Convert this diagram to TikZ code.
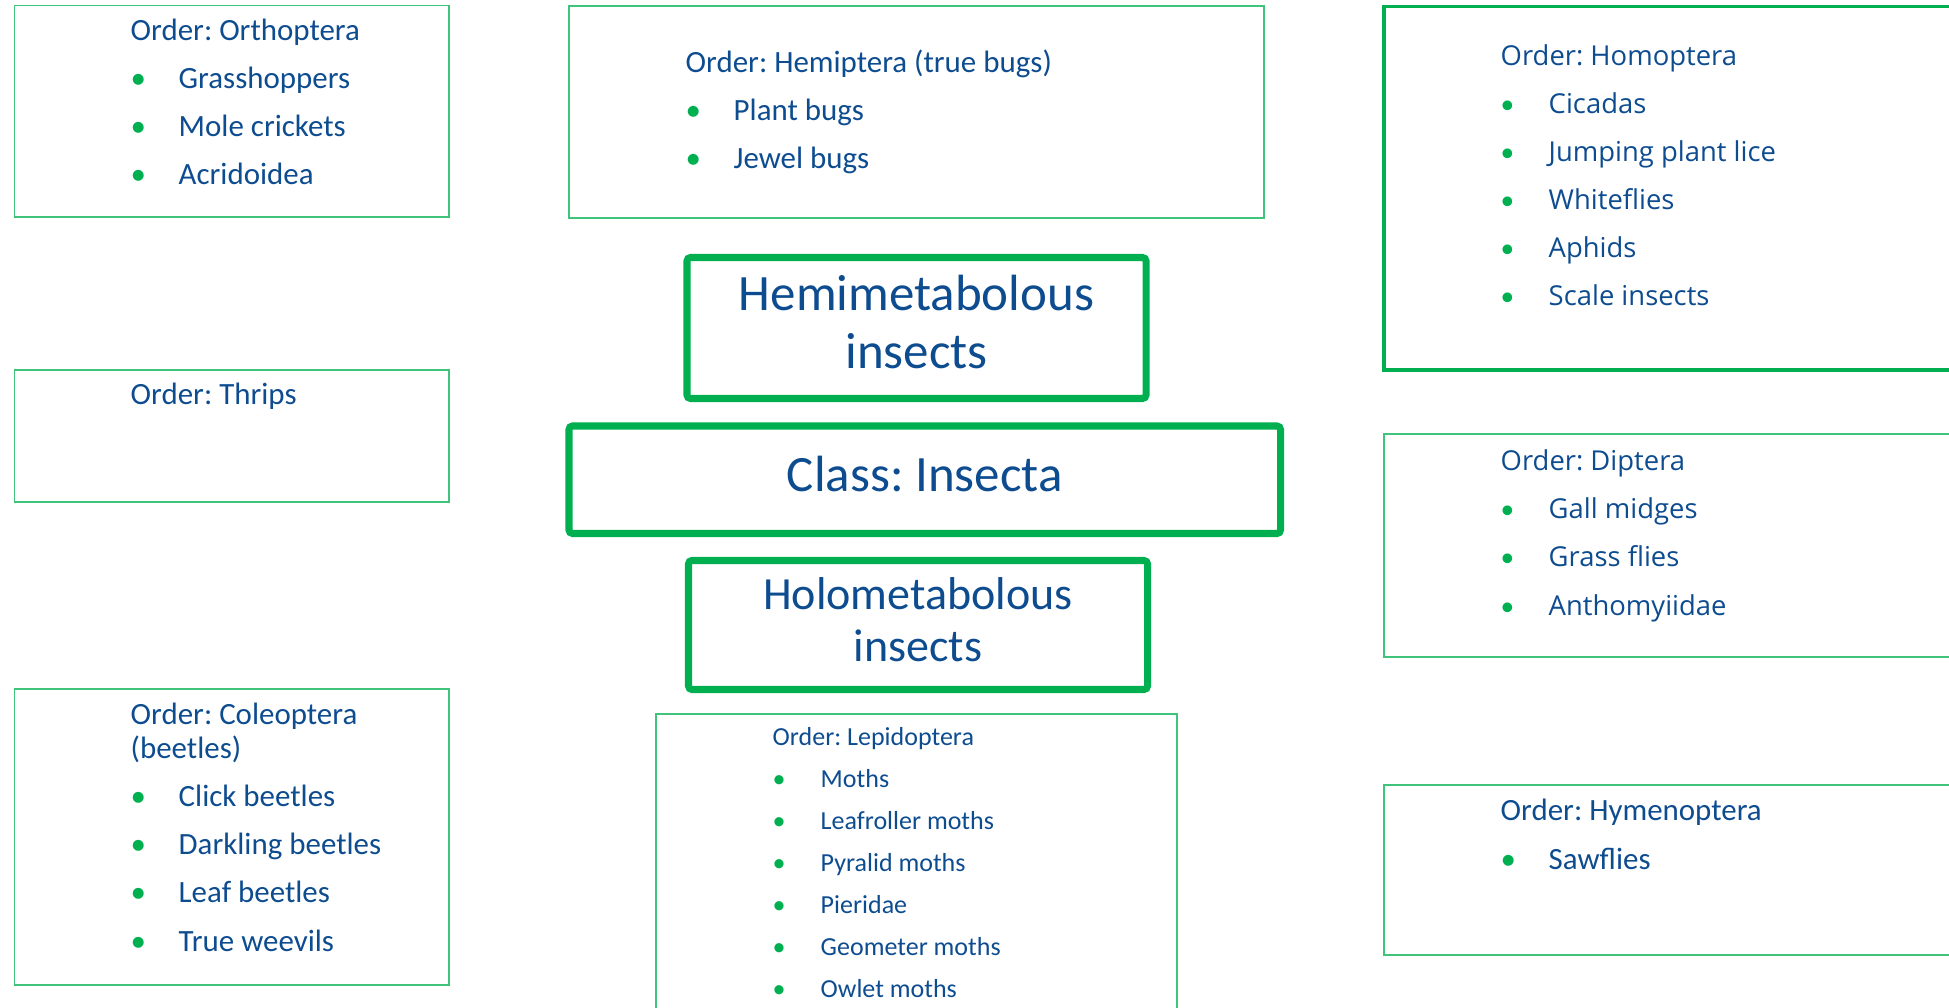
\documentclass[tikz,border=0pt]{standalone}
\usepackage{fontspec}
\setmainfont{Carlito}
\newfontfamily\widefont{Open Sans}
\usetikzlibrary{positioning}
\definecolor{TextBlue}{HTML}{0E4C90}
\definecolor{BoxGreen}{HTML}{00B050}
\newcommand{\itm}[1]{\makebox[0.48cm][l]{\textcolor{BoxGreen}{\rmfamily\textbullet}}#1}
\frenchspacing

\begin{document}
\begin{tikzpicture}[
    every node/.style={text=TextBlue},
    order/.style={draw=BoxGreen!75, line width=0.5pt, inner sep=0pt},
    group/.style={draw=BoxGreen, line width=2pt, rounded corners=1pt, inner sep=0pt,
                  align=center, font=\fontsize{14.5pt}{16.5pt}\selectfont},
    list/.style={anchor=base west, align=left, inner sep=0pt,
                 font=\fontsize{8.8pt}{13.66pt}\selectfont},
  ]
    \useasboundingbox (0,0) rectangle (19.49,10.07);
    \clip (0,0) rectangle (19.49,10.07);
    % ---- middle: class and the two groups ----
    \node[group, minimum width=4.59cm, minimum height=1.41cm] (hemi) at (9.165,6.79)
        {\strut Hemimetabolous\\insects\strut};
    \node[group, minimum width=7.115cm, minimum height=1.075cm] (insecta) at (9.2475,5.2725)
        {\strut Class: Insecta};
    \node[group, minimum width=4.59cm, minimum height=1.29cm,
          font=\fontsize{13.1pt}{14.8pt}\selectfont] (holo) at (9.18,3.82)
        {\strut Holometabolous\\insects\strut};
    % ---- left column (anchored at the last line) ----
    \node[order, minimum width=4.345cm, minimum height=2.114cm] (orthbox)  at (2.3175,8.957) {};
    \node[order, minimum width=4.345cm, minimum height=1.32cm]  (thripbox) at (2.3175,5.71)  {};
    \node[order, minimum width=4.345cm, minimum height=2.96cm]  (coleobox) at (2.3175,1.70)  {};
    \node[list] (orthtxt) at (1.30,8.22)
        {Order: Orthoptera\\\itm{Grasshoppers}\\\itm{Mole crickets}\\\itm{Acridoidea}};
    \node[list] (thriptxt) at (1.30,6.02) {Order: Thrips};
    \node[list] (coleotxt) at (1.30,0.56)
        {Order: Coleoptera\\[-3.99pt](beetles)\\\itm{Click beetles}\\\itm{Darkling beetles}\\
         \itm{Leaf beetles}\\\itm{True weevils}};
    % ---- middle column ----
    \node[order, minimum width=6.95cm, minimum height=2.12cm] (hemibox) at (9.165,8.95) {};
    \node[order, minimum width=5.21cm, minimum height=3.43cm] (lepibox) at (9.165,1.215) {};
    \node[list] (hemitxt) at (6.85,8.38)
        {Order: Hemiptera (true bugs)\\\itm{Plant bugs}\\\itm{Jewel bugs}};
    \node[list, font=\fontsize{7.4pt}{11.95pt}\selectfont] (lepitxt) at (7.72,0.10)
        {Order: Lepidoptera\\\itm{Moths}\\\itm{Leafroller moths}\\\itm{Pyralid moths}\\
         \itm{Pieridae}\\\itm{Geometer moths}\\\itm{Owlet moths}};
    % ---- right column (runs past the edge) ----
    \node[order, draw=BoxGreen, line width=1.1pt, minimum width=6.36cm, minimum height=3.635cm]
        (homobox) at (17.02,8.1875) {};
    \node[order, minimum width=6.36cm, minimum height=2.23cm] (dipbox) at (17.02,4.615) {};
    \node[order, minimum width=6.36cm, minimum height=1.70cm] (hymbox) at (17.02,1.37) {};
    \node[list, font=\widefont\fontsize{7.8pt}{13.66pt}\selectfont] (homotxt) at (15.00,7.01)
        {Order: Homoptera\\\itm{Cicadas}\\\itm{Jumping plant lice}\\\itm{Whiteflies}\\
         \itm{Aphids}\\\itm{Scale insects}};
    \node[list, font=\widefont\fontsize{7.8pt}{13.66pt}\selectfont] (diptxt) at (15.00,3.92)
        {Order: Diptera\\\itm{Gall midges}\\\itm{Grass flies}\\\itm{Anthomyiidae}};
    \node[list] (hymtxt) at (15.00,1.38) {Order: Hymenoptera\\\itm{Sawflies}};
\end{tikzpicture}
\end{document}
